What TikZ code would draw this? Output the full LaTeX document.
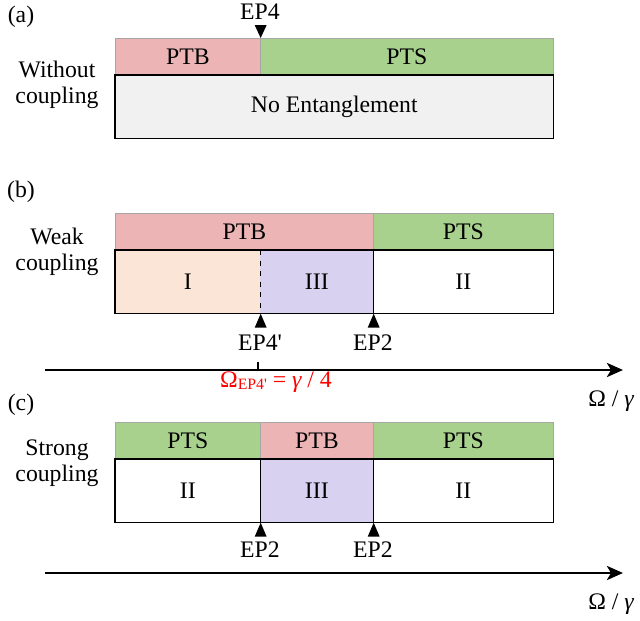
\documentclass[tikz,border=0pt]{standalone}
\usepackage{fontspec}
\setmainfont{Liberation Serif}
\usetikzlibrary{arrows.meta}
\definecolor{ptbpink}{RGB}{236,180,180}
\definecolor{ptsgreen}{RGB}{169,209,142}
\definecolor{regI}{RGB}{251,229,214}
\definecolor{regIII}{RGB}{216,210,240}
\definecolor{noent}{RGB}{241,241,241}

\begin{document}
\begin{tikzpicture}[
    x=0.02cm, y=-0.02cm,
    txt/.style={font=\rmfamily\fontsize{13.5}{15}\selectfont, inner sep=0pt},
    bar/.style={txt, draw=gray!70, thin, minimum height=0.74cm, anchor=north west},
    region/.style={txt, minimum height=1.26cm, anchor=north west},
    sidelbl/.style={txt, align=center},
    eplbl/.style={txt},
    epmark/.style={fill=black},
    axis/.style={-{Stealth[length=3.2mm, width=2.8mm, inset=0.8mm]}, line width=1.6pt},
  ]
    \useasboundingbox (0,0) rectangle (640,620);

    % --- (a) without coupling ---
    \node[txt] (alab) at (21,17) {(a)};
    \node[sidelbl] (aside) at (57,85) {Without\\coupling};
    \node[bar, fill=ptbpink, minimum width=2.9cm]   (aptb) at (115,38) {PTB};
    \node[bar, fill=ptsgreen, minimum width=5.86cm] (apts) at (260,38) {PTS};
    \node[region, fill=noent, minimum width=8.76cm] (anoent) at (115,75) {No Entanglement};
    \draw[line width=0.9pt] (anoent.north west) rectangle (anoent.south east);
    \node[eplbl] (aep4) at (260,12) {EP4};
    \fill[epmark] (aptb.north east) -- ++(-6,-13) -- ++(12,0) -- cycle;

    % --- (b) weak coupling ---
    \node[txt] (blab) at (21,192) {(b)};
    \node[sidelbl] (bside) at (57,252) {Weak\\coupling};
    \node[bar, fill=ptbpink, minimum width=5.16cm]  (bptb) at (115,213) {PTB};
    \node[bar, fill=ptsgreen, minimum width=3.6cm]  (bpts) at (373,213) {PTS};
    \node[region, fill=regI, minimum width=2.9cm]    (bI)   at (115,250) {I};
    \node[region, fill=regIII, minimum width=2.26cm] (bIII) at (260,250) {III};
    \node[region, minimum width=3.6cm]               (bII)  at (373,250) {II};
    \draw[line width=0.9pt] (bI.north west) rectangle (bII.south east);
    \draw[line width=0.9pt, dashed] (bI.north east) -- (bI.south east);
    \draw[line width=0.9pt] (bIII.north east) -- (bIII.south east);
    \fill[epmark] (bI.south east) -- ++(-6,14) -- ++(12,0) -- cycle;
    \fill[epmark] (bIII.south east) -- ++(-6,14) -- ++(12,0) -- cycle;
    \node[eplbl] (bep4) at (260,343) {EP4\textquotesingle};
    \node[eplbl] (bep2) at (373,343) {EP2};

    \coordinate (bstart) at (45,370);
    \coordinate (bend)   at (623,370);
    \draw[axis] (bstart) -- (bend);
    \coordinate (btick) at (258,370);
    \draw[line width=1.6pt] (btick) -- ++(0,-8);
    \node[txt, text=red] (bomega) at (276,382)
      {Ω{\fontsize{9}{10}\selectfont\raisebox{-0.35ex}{EP4\textquotesingle}} = {\itshape γ} / 4};
    \node[txt] (baxlbl) at (611,401) {Ω / {\itshape γ}};

    % --- (c) strong coupling ---
    \node[txt] (clab) at (21,405) {(c)};
    \node[sidelbl] (cside) at (57,463) {Strong\\coupling};
    \node[bar, fill=ptsgreen, minimum width=2.9cm]  (cpts1) at (115,422) {PTS};
    \node[bar, fill=ptbpink, minimum width=2.26cm]  (cptb)  at (260,422) {PTB};
    \node[bar, fill=ptsgreen, minimum width=3.6cm]  (cpts2) at (373,422) {PTS};
    \node[region, minimum width=2.9cm]               (cII1) at (115,459) {II};
    \node[region, fill=regIII, minimum width=2.26cm] (cIII) at (260,459) {III};
    \node[region, minimum width=3.6cm]               (cII2) at (373,459) {II};
    \draw[line width=0.9pt] (cII1.north west) rectangle (cII2.south east);
    \draw[line width=0.9pt] (cII1.north east) -- (cII1.south east);
    \draw[line width=0.9pt] (cIII.north east) -- (cIII.south east);
    \fill[epmark] (cII1.south east) -- ++(-6,14) -- ++(12,0) -- cycle;
    \fill[epmark] (cIII.south east) -- ++(-6,14) -- ++(12,0) -- cycle;
    \node[eplbl] (cep2a) at (260,550) {EP2};
    \node[eplbl] (cep2b) at (373,550) {EP2};

    \coordinate (cstart) at (45,573);
    \coordinate (cend)   at (623,573);
    \draw[axis] (cstart) -- (cend);
    \node[txt] (caxlbl) at (611,604) {Ω / {\itshape γ}};
\end{tikzpicture}
\end{document}
